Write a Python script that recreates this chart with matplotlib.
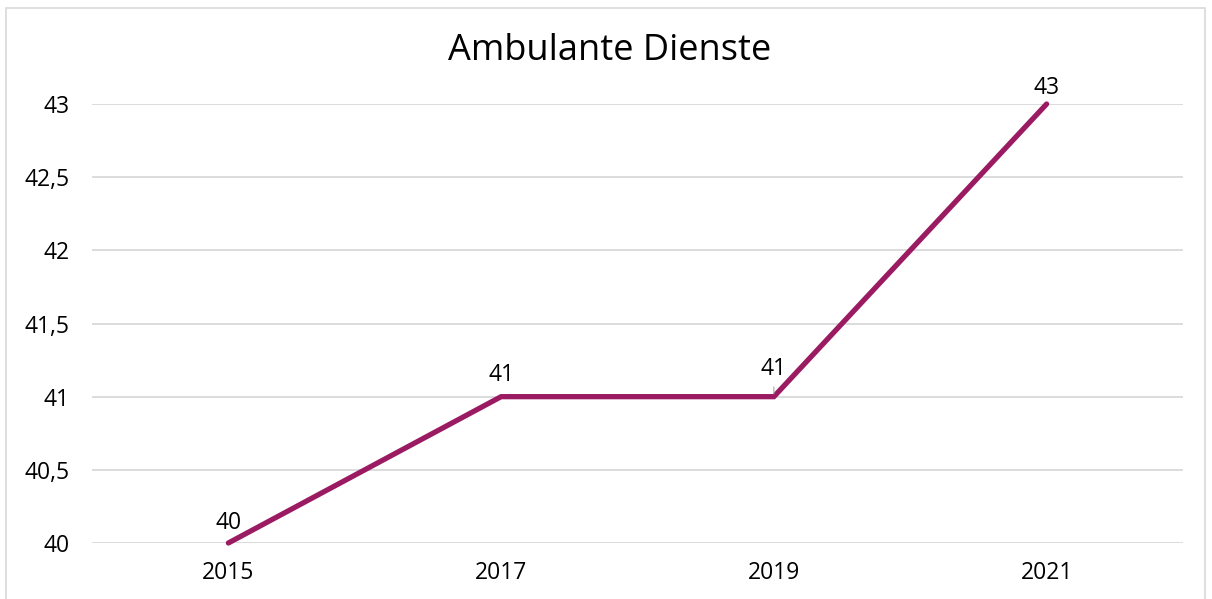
import matplotlib
matplotlib.use("Agg")
import matplotlib.pyplot as plt
from matplotlib.patches import Rectangle
from matplotlib.ticker import FuncFormatter

# data
years = ['2015', '2017', '2019', '2021']
values = [40, 41, 41, 43]
title = 'Ambulante Dienste'

plt.rcParams['font.family'] = ['Open Sans', 'DejaVu Sans']

W, H = 1212, 599
fig = plt.figure(figsize=(W / 100, H / 100), dpi=100)

# outer frame like the chart area border
fig.patches.append(Rectangle((6 / W, -0.01), 1199 / W, (H - 8) / H + 0.01,
                             transform=fig.transFigure, fill=False,
                             edgecolor='#D9D9D9', linewidth=1.2))

ax = fig.add_axes([92 / W, 1 - 543 / H, (1183 - 92) / W, (543 - 104) / H])
x = list(range(len(years)))
ax.plot(x, values, color='#9B1B63', linewidth=3.8, solid_capstyle='round',
        solid_joinstyle='miter', zorder=3, clip_on=False)

ax.set_xlim(-0.5, len(years) - 0.5)
ax.set_ylim(40, 43)
ax.set_yticks([40, 40.5, 41, 41.5, 42, 42.5, 43])
ax.yaxis.set_major_formatter(FuncFormatter(lambda v, p: ('%g' % v).replace('.', ',')))
ax.set_xticks(x)
ax.set_xticklabels(years)
ax.grid(axis='y', color='#D9D9D9', linewidth=1.3)
ax.set_axisbelow(True)
for s in ax.spines.values():
    s.set_visible(False)
ax.tick_params(length=0, labelsize=16.5, colors='#000000')
ax.tick_params(axis='x', pad=13)
ax.tick_params(axis='y', pad=16)

# data labels
offs = [6, 7, 11, 3]
for i, v in enumerate(values):
    ax.annotate(str(v), (i, v), xytext=(0, offs[i]), textcoords='offset points',
                ha='center', va='bottom', fontsize=16.5, clip_on=False)
# small leader line at 2019
ax.annotate('', (2, values[2]), xytext=(0, 9), textcoords='offset points',
            arrowprops=dict(arrowstyle='-', color='#A6A6A6', lw=0.8))

fig.text(610 / W, 1 - 51 / H, title, ha='center', va='center', fontsize=26)

fig.savefig('out.png', dpi=100)
